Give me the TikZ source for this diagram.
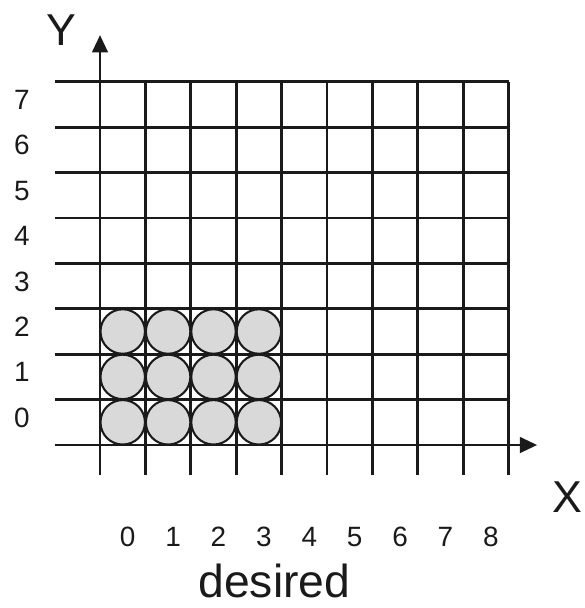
\documentclass[tikz,border=0pt]{standalone}
\usepackage{fontspec}
\setmainfont{Liberation Sans}
\usetikzlibrary{arrows.meta}
\definecolor{GridBlack}{HTML}{1A1A1A}
\definecolor{DotGray}{HTML}{D9D9D9}

\begin{document}
\begin{tikzpicture}[
  gridline/.style={draw=GridBlack, line width=1.8pt},
  axis/.style={gridline, -{Triangle[length=0.38cm, width=0.34cm]}},
  dot/.style={circle, draw=GridBlack, line width=1.3pt, fill=DotGray, minimum size=0.98cm, inner sep=0pt},
  numlabel/.style={font=\fontsize{17.5}{20}\selectfont, text=GridBlack, inner sep=0pt},
  axislabel/.style={font=\fontsize{28}{32}\selectfont, text=GridBlack, inner sep=0pt}
]
\useasboundingbox (-2.203,-3.590) rectangle (10.661,9.802);

% grid
\foreach \y in {1,...,8} \draw[gridline] (-1,\y) -- (9,\y);
\foreach \x in {1,...,9} \draw[gridline] (\x,-0.66) -- (\x,8);

% axes
\coordinate (xstart) at (-1,0);
\coordinate (xend) at (9.63,0);
\coordinate (ystart) at (0,-0.66);
\coordinate (yend) at (0,9.03);
\draw[axis] (xstart) -- (xend);
\draw[axis] (ystart) -- (yend);

% filled cells
\node[dot] (c00) at (0.5,0.5) {};
\node[dot] (c10) at (1.5,0.5) {};
\node[dot] (c20) at (2.5,0.5) {};
\node[dot] (c30) at (3.5,0.5) {};
\node[dot] (c01) at (0.5,1.5) {};
\node[dot] (c11) at (1.5,1.5) {};
\node[dot] (c21) at (2.5,1.5) {};
\node[dot] (c31) at (3.5,1.5) {};
\node[dot] (c02) at (0.5,2.5) {};
\node[dot] (c12) at (1.5,2.5) {};
\node[dot] (c22) at (2.5,2.5) {};
\node[dot] (c32) at (3.5,2.5) {};

% row numbers
\node[numlabel] (y0) at (-1.72,0.6) {0};
\node[numlabel] (y1) at (-1.72,1.6) {1};
\node[numlabel] (y2) at (-1.72,2.6) {2};
\node[numlabel] (y3) at (-1.72,3.6) {3};
\node[numlabel] (y4) at (-1.72,4.6) {4};
\node[numlabel] (y5) at (-1.72,5.6) {5};
\node[numlabel] (y6) at (-1.72,6.6) {6};
\node[numlabel] (y7) at (-1.72,7.6) {7};

% column numbers
\node[numlabel] (x0) at (0.61,-2.03) {0};
\node[numlabel] (x1) at (1.61,-2.03) {1};
\node[numlabel] (x2) at (2.61,-2.03) {2};
\node[numlabel] (x3) at (3.61,-2.03) {3};
\node[numlabel] (x4) at (4.61,-2.03) {4};
\node[numlabel] (x5) at (5.61,-2.03) {5};
\node[numlabel] (x6) at (6.61,-2.03) {6};
\node[numlabel] (x7) at (7.61,-2.03) {7};
\node[numlabel] (x8) at (8.61,-2.03) {8};

\node[axislabel] (ylabel) at (-0.84,9.14) {Y};
\node[axislabel] (xlabel) at (10.3,-1.15) {X};
\node[axislabel, font=\fontsize{29}{34}\selectfont] (caption) at (3.84,-3.0) {desired};
\end{tikzpicture}
\end{document}
